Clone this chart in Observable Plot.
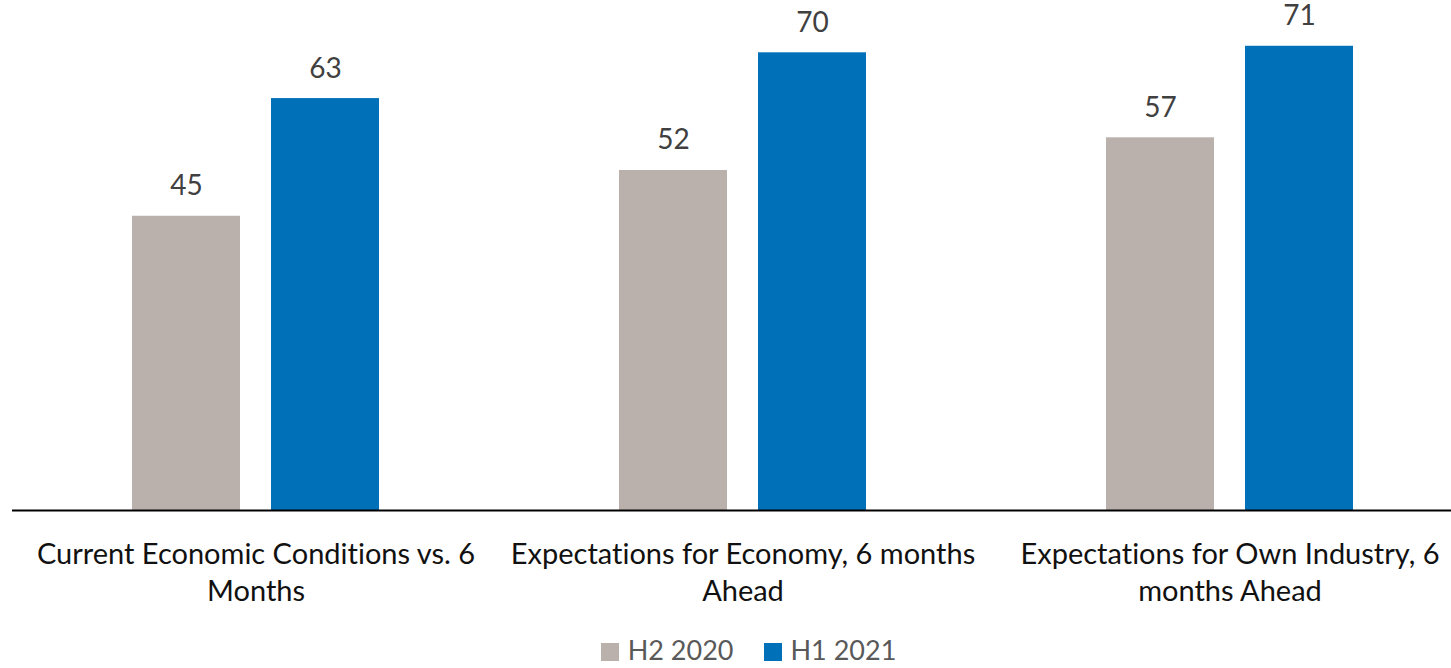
<!DOCTYPE html>
<html><head><meta charset="utf-8">
<script src="https://cdn.jsdelivr.net/npm/d3@7"></script>
<script src="https://cdn.jsdelivr.net/npm/@observablehq/plot@0.6"></script>
<style>
body{margin:0;background:#fff;font-family:Lato,sans-serif;overflow:hidden;}
#legend{display:flex;justify-content:center;align-items:center;height:24px;line-height:24px;padding-top:8px;font-size:27px;color:#595959;padding-left:46px;}
.item{display:flex;align-items:center;margin:0 15px;height:24px;}
.sw{width:18px;height:18px;margin-right:9px;margin-top:4px;}
</style></head><body><div id="chart"></div><div id="legend"></div>
<script>
const categories = ["Current Economic Conditions vs. 6 Months", "Expectations for Economy, 6 months Ahead", "Expectations for Own Industry, 6 months Ahead"];
const tickLabels = ["Current Economic Conditions vs. 6\nMonths", "Expectations for Economy, 6 months\nAhead", "Expectations for Own Industry, 6\nmonths Ahead"];
const seriesNames = ["H2 2020", "H1 2021"];
const h2_2020 = [45, 52, 57];
const h1_2021 = [63, 70, 71];
const seriesColors = ["#BAB0AC", "#0070B8"];

const data = categories.flatMap((c, i) => [
  {category: c, series: seriesNames[0], value: h2_2020[i]},
  {category: c, series: seriesNames[1], value: h1_2021[i]}
]);

const plot = Plot.plot({
  width: 1451, height: 630,
  marginLeft: 12, marginRight: -22, marginTop: 0, marginBottom: 120,
  style: {fontFamily: "Lato, sans-serif", background: "#fff", overflow: "visible", fontVariantLigatures: "none"},
  fx: {domain: categories, padding: 0, label: null},
  x: {domain: seriesNames, paddingInner: 0.2214, paddingOuter: 0.85, axis: null},
  y: {domain: [0, 78], axis: null},
  color: {domain: seriesNames, range: seriesColors},
  marks: [
    Plot.barY(data, {fx: "category", x: "series", y: "value", fill: "series"}),
    Plot.text(data, {fx: "category", x: "series", y: "value", text: d => String(d.value), dy: -30, fontSize: 28, fill: "#404040"}),
    Plot.ruleY([0], {stroke: "#000", strokeWidth: 2}),
    Plot.axisFx({anchor: "bottom", tickSize: 0, tickPadding: 27, fontSize: 29, color: "#111", lineHeight: 1.28,
      tickFormat: d => tickLabels[categories.indexOf(d)], label: null})
  ]
});
document.getElementById("chart").append(plot);
const color = plot.scale("color");
const legend = document.getElementById("legend");
color.domain.forEach((name, i) => {
  const item = document.createElement("div");
  item.className = "item";
  const sw = document.createElement("span");
  sw.className = "sw";
  sw.style.background = color.range[i];
  const label = document.createElement("span");
  label.textContent = name;
  item.append(sw, label);
  legend.append(item);
});
</script></body></html>
